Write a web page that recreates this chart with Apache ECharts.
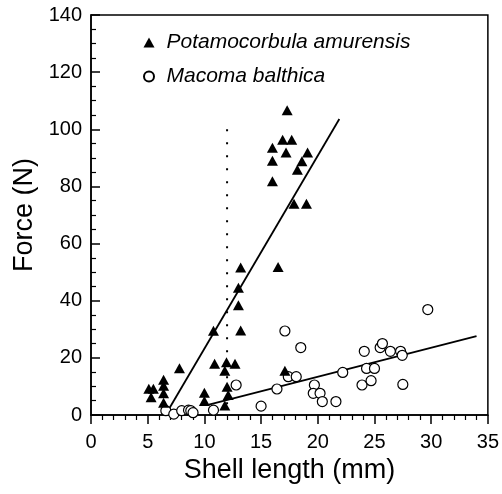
<!DOCTYPE html>
<html>
<head>
<meta charset="utf-8">
<script src="https://cdn.jsdelivr.net/npm/echarts@6/dist/echarts.min.js"></script>
<style>html,body{margin:0;padding:0;background:#fff}#c{width:502px;height:494px}</style>
</head>
<body>
<div id="c"></div>
<script>
// Potamocorbula amurensis (filled triangles)
var potX = [5.1,5.5,5.3,6.4,6.4,6.4,6.4,7.8,10.0,10.0,10.8,10.9,11.95,12.7,11.8,12.0,12.1,11.8,13.2,13.0,13.0,13.2,16.5,17.1,17.3,16.9,17.7,16.0,17.2,19.1,16.0,18.6,18.2,16.0,17.9,19.0];
var potY = [9.2,9.2,6.2,12.3,10.2,7.6,4.3,16.4,7.8,4.9,29.5,17.9,18.5,17.9,15.5,9.9,7.0,3.3,51.6,44.5,38.4,29.6,51.8,15.5,106.7,96.3,96.3,93.5,91.9,91.9,89.0,88.8,85.8,81.8,73.9,73.9];
// Macoma balthica (open circles)
var macX = [6.6,7.3,8.0,8.6,8.8,9.0,10.8,12.8,15.0,16.4,17.1,17.4,18.1,18.5,19.7,19.6,20.2,20.4,21.6,22.2,23.9,24.1,24.3,25.0,24.7,25.5,25.7,26.4,27.3,27.45,27.5,29.7];
var macY = [1.5,0.3,1.5,1.7,1.5,0.8,1.7,10.5,3.1,9.1,29.4,13.4,13.4,23.6,10.5,7.6,7.6,4.7,4.7,14.9,10.5,22.3,16.3,16.3,12.0,23.6,25.0,22.3,22.3,20.9,10.7,36.9];
// regression lines and threshold line
var potFitX = [6.9, 21.9], potFitY = [2.3, 103.6];
var macFitX = [10.4, 34.0], macFitY = [3.6, 27.6];
var dotX = [12, 12], dotY = [100, 0];
var xTicks = {min: 0, max: 35, interval: 5};
var yTicks = {min: 0, max: 140, interval: 20};
var seriesNames = ['Potamocorbula amurensis', 'Macoma balthica'];

function zip(a, b) { return a.map(function (v, i) { return [v, b[i]]; }); }

var font = 'Liberation Sans, Arial, Helvetica, sans-serif';
var chart = echarts.init(document.getElementById('c'), null, {renderer: 'canvas'});
chart.setOption({
  animation: false,
  backgroundColor: '#fff',
  grid: {left: 91, right: 13, top: 15, bottom: 79, show: true, borderColor: '#000', borderWidth: 1.5, backgroundColor: 'transparent'},
  legend: {
    data: [{name: seriesNames[0], icon: 'triangle'}, {name: seriesNames[1], icon: 'circle'}],
    orient: 'vertical', left: 138, top: 27, itemWidth: 11, itemHeight: 10, itemGap: 13,
    textStyle: {fontFamily: font, fontStyle: 'italic', fontSize: 21, color: '#000', padding: [0, 0, 0, 7]}
  },
  xAxis: {
    type: 'value', min: xTicks.min, max: xTicks.max, interval: xTicks.interval,
    name: 'Shell length (mm)', nameLocation: 'middle', nameGap: 39,
    nameTextStyle: {fontFamily: font, fontSize: 27, color: '#000'},
    axisLine: {show: true, lineStyle: {color: '#000', width: 1.5}},
    axisTick: {show: true, inside: false, length: 9, lineStyle: {color: '#000', width: 1.5}},
    minorTick: {show: true, splitNumber: 5, length: 5, lineStyle: {color: '#000', width: 1.2}},
    axisLabel: {fontFamily: font, fontSize: 20, color: '#000', margin: 17},
    splitLine: {show: false}
  },
  yAxis: {
    type: 'value', min: yTicks.min, max: yTicks.max, interval: yTicks.interval,
    name: 'Force (N)', nameLocation: 'middle', nameGap: 46, nameRotate: 90,
    nameTextStyle: {fontFamily: font, fontSize: 27, color: '#000'},
    axisLine: {show: true, lineStyle: {color: '#000', width: 1.5}},
    axisTick: {show: true, inside: true, length: 9, lineStyle: {color: '#000', width: 1.5}},
    minorTick: {show: true, splitNumber: 4, length: 5, lineStyle: {color: '#000', width: 1.2}},
    axisLabel: {fontFamily: font, fontSize: 20, color: '#000', margin: 9},
    splitLine: {show: false}
  },
  series: [
    {name: 'thresh', type: 'line', data: zip(dotX, dotY), symbol: 'none', silent: true,
     lineStyle: {color: '#000', width: 2, type: [2, 11]}, z: 1},
    {name: 'potfit', type: 'line', data: zip(potFitX, potFitY), symbol: 'none', silent: true,
     lineStyle: {color: '#000', width: 1.8}, z: 2},
    {name: 'macfit', type: 'line', data: zip(macFitX, macFitY), symbol: 'none', silent: true,
     lineStyle: {color: '#000', width: 1.8}, z: 2},
    {name: seriesNames[1], type: 'scatter', data: zip(macX, macY), symbol: 'circle', symbolSize: 10,
     itemStyle: {color: '#fff', borderColor: '#000', borderWidth: 1.2, opacity: 1}, z: 3},
    {name: seriesNames[0], type: 'scatter', data: zip(potX, potY), symbol: 'triangle', symbolSize: [11, 10],
     itemStyle: {color: '#000', opacity: 1}, z: 4}
  ]
});
</script>
</body>
</html>
